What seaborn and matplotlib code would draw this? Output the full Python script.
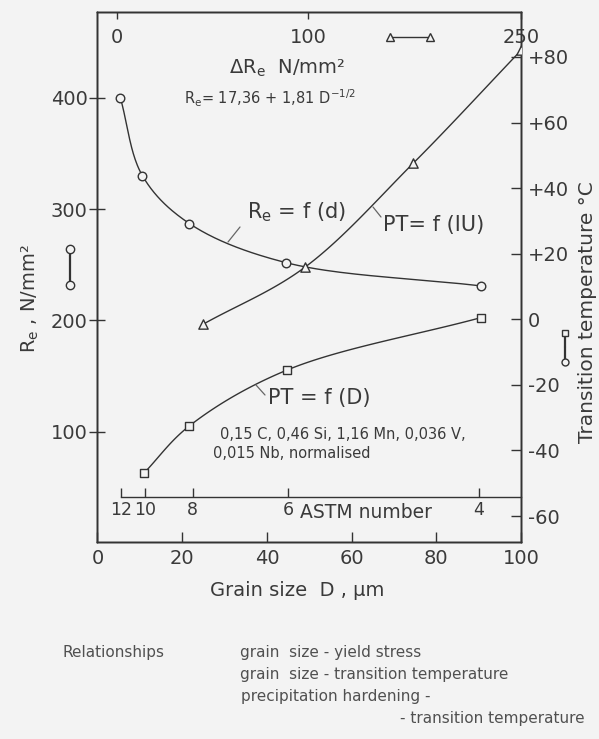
import numpy as np
import matplotlib
matplotlib.use("Agg")
import matplotlib.pyplot as plt
import seaborn as sns
from matplotlib.lines import Line2D

# ---------------- data ----------------
re_grain_size = [5.4, 10.6, 21.7, 44.4, 90.5]        # D, µm
re_yield_stress = [400, 330, 287, 252, 231]           # Re, N/mm²
pt_grain_size = [10.9, 21.7, 44.7, 90.5]              # D, µm
pt_temp_grain = [-47, -32.5, -15.5, 0.5]              # transition temperature, °C
iu_delta_re = [45, 98, 174, 250]                      # ΔRe, N/mm²
iu_temp = [-1.5, 15.8, 47.6, 82]                      # transition temperature, °C

astm_numbers = ["12", "10", "8", "6", "4"]
astm_grain_size = [5.6, 11.2, 22.5, 45, 90]
grain_ticks = [0, 20, 40, 60, 80, 100]
stress_ticks = [100, 200, 300, 400]
temp_ticks = [-60, -40, -20, 0, 20, 40, 60, 80]
temp_tick_labels = ["-60", "-40", "-20", "0", "+20", "+40", "+60", "+80"]
delta_re_ticks = [0, 100, 250]

# ---------------- style ----------------
BG = "#f3f3f3"
INK = "#333333"
TXT = "#3a3a3a"
W, H = 599, 739

sns.set_style("ticks")
plt.rcParams.update({
    "font.family": ["DejaVu Sans"],
    "mathtext.fontset": "dejavusans",
    "axes.edgecolor": INK,
    "axes.linewidth": 1.0,
    "xtick.color": INK,
    "ytick.color": INK,
    "xtick.labelcolor": TXT,
    "ytick.labelcolor": TXT,
    "xtick.labelsize": 14,
    "ytick.labelsize": 14,
    "text.color": TXT,
})


def fx(x):
    return x / W


def fy(y):
    return 1 - y / H


fig = plt.figure(figsize=(W / 100, H / 100), dpi=100, facecolor=BG)
L, R, T, B = 97.5, 521, 12, 542
rect = [fx(L), fy(B), (R - L) / W, (B - T) / H]
ax = fig.add_axes(rect, facecolor=BG)
ax.set_xlim(0, 100)
ax.set_ylim(1, 477)

ax2 = ax.twinx()
ax2.set_ylim(-67.9, 93.7)

# top axis: ΔRe, piecewise-linear scale as printed
dre_nodes = np.array([0.0, 100.0, 250.0])
pos_nodes = np.array([4.6, 49.8, 100.0])
s1 = (pos_nodes[1] - pos_nodes[0]) / (dre_nodes[1] - dre_nodes[0])
s2 = (pos_nodes[2] - pos_nodes[1]) / (dre_nodes[2] - dre_nodes[1])


def fwd(v):
    v = np.asarray(v, float)
    return np.where(v < dre_nodes[1], pos_nodes[0] + (v - dre_nodes[0]) * s1,
                    pos_nodes[1] + (v - dre_nodes[1]) * s2)


def inv(p):
    p = np.asarray(p, float)
    return np.where(p < pos_nodes[1], dre_nodes[0] + (p - pos_nodes[0]) / s1,
                    dre_nodes[1] + (p - pos_nodes[1]) / s2)


ax3 = ax2.twiny()
ax3.set_xscale("function", functions=(fwd, inv))
ax3.set_xlim(float(inv(0.0)), 250)
ax3.set_ylim(ax2.get_ylim())

# ---------------- ticks ----------------
ax.set_xticks(grain_ticks)
ax.set_yticks(stress_ticks)
ax.tick_params(axis="x", direction="in", length=7, width=1, pad=5, top=False)
ax.tick_params(axis="y", direction="inout", length=12, width=1, pad=1, right=False)
ax2.set_yticks(temp_ticks, labels=temp_tick_labels)
ax2.tick_params(axis="y", direction="in", length=7, width=1, pad=5)
ax3.set_xticks(delta_re_ticks, labels=[str(t) for t in delta_re_ticks])
ax3.xaxis.set_minor_locator(matplotlib.ticker.NullLocator())
ax3.tick_params(axis="x", direction="in", length=5, width=1, pad=-25, top=True,
                labeltop=True, bottom=False, labelbottom=False)
for a in (ax, ax2, ax3):
    for s in a.spines.values():
        s.set_color(INK)


# ---------------- smooth curve helper (drawn through read points) ----------------
def catmull(P, n=40):
    P = np.vstack([2 * P[0] - P[1], P, 2 * P[-1] - P[-2]])
    out = []
    for i in range(1, len(P) - 2):
        p0, p1, p2, p3 = P[i - 1], P[i], P[i + 1], P[i + 2]
        t0 = 0.0
        t1 = t0 + np.linalg.norm(p1 - p0) ** 0.5
        t2 = t1 + np.linalg.norm(p2 - p1) ** 0.5
        t3 = t2 + np.linalg.norm(p3 - p2) ** 0.5
        t = np.linspace(t1, t2, n)[:, None]
        A1 = (t1 - t) / (t1 - t0) * p0 + (t - t0) / (t1 - t0) * p1
        A2 = (t2 - t) / (t2 - t1) * p1 + (t - t1) / (t2 - t1) * p2
        A3 = (t3 - t) / (t3 - t2) * p2 + (t - t2) / (t3 - t2) * p3
        B1 = (t2 - t) / (t2 - t0) * A1 + (t - t0) / (t2 - t0) * A2
        B2 = (t3 - t) / (t3 - t1) * A2 + (t - t1) / (t3 - t1) * A3
        C = (t2 - t) / (t2 - t1) * B1 + (t - t1) / (t2 - t1) * B2
        out.append(C if i == 1 else C[1:])
    return np.vstack(out)


def smooth_line(a, xs, ys):
    pts = a.transData.transform(np.column_stack([xs, ys]))
    c = catmull(pts)
    back = a.transData.inverted().transform(c)
    a.plot(back[:, 0], back[:, 1], color=INK, lw=1.0, zorder=2)


smooth_line(ax, re_grain_size, re_yield_stress)
smooth_line(ax2, pt_grain_size, pt_temp_grain)
smooth_line(ax3, iu_delta_re, iu_temp)

mk = dict(color=BG, edgecolor=INK, linewidth=1.0, zorder=3, legend=False)
sns.scatterplot(x=re_grain_size, y=re_yield_stress, ax=ax, marker="o", s=38, **mk)
sns.scatterplot(x=pt_grain_size, y=pt_temp_grain, ax=ax2, marker="s", s=32, **mk)
sns.scatterplot(x=iu_delta_re, y=iu_temp, ax=ax3, marker="^", s=45, **mk)
for a in (ax, ax2, ax3):
    a.set_xlabel("")
    a.set_ylabel("")
ax.set_xlim(0, 100)
ax.set_ylim(1, 477)
ax2.set_ylim(-67.9, 93.7)
ax3.set_xlim(float(inv(0.0)), 250)

# ---------------- ASTM number scale ----------------
axA = fig.add_axes([fx(L), fy(497), (R - L) / W, 0.03])
axA.patch.set_visible(False)
axA.set_xlim(0, 100)
for k in ("top", "left", "right"):
    axA.spines[k].set_visible(False)
axA.spines["bottom"].set_color(INK)
axA.spines["bottom"].set_bounds(astm_grain_size[0], 100)
axA.set_yticks([])
axA.set_xticks(astm_grain_size, labels=astm_numbers)
axA.tick_params(axis="x", direction="in", length=6.5, width=1, pad=3, labelsize=12.5)
fig.text(fx(300), fy(513), "ASTM number", fontsize=13.5, ha="left", va="center")

# ---------------- texts ----------------
fig.text(fx(287), fy(68), "ΔR$_\\mathregular{e}$  N/mm²", fontsize=14, ha="center", va="center")
fig.text(fx(270), fy(98), "R$_\\mathregular{e}$= 17,36 + 1,81 D$^{\\mathregular{-1/2}}$",
         fontsize=10.5, ha="center", va="center")
fig.text(fx(247), fy(212), "R$_\\mathregular{e}$ = f (d)", fontsize=15, ha="left", va="center")
fig.text(fx(383), fy(225), "PT= f (IU)", fontsize=15, ha="left", va="center")
fig.text(fx(268), fy(398), "PT = f (D)", fontsize=15, ha="left", va="center")
fig.text(fx(220), fy(435), "0,15 C, 0,46 Si, 1,16 Mn, 0,036 V,", fontsize=10.5, ha="left", va="center")
fig.text(fx(213), fy(454), "0,015 Nb, normalised", fontsize=10.5, ha="left", va="center")
fig.text(fx(297), fy(590), "Grain size  D , µm", fontsize=14, ha="center", va="center")
fig.text(fx(30), fy(298), "R$_\\mathregular{e}$ , N/mm²", fontsize=14, rotation=90,
         ha="center", va="center")
fig.text(fx(578), fy(312), "Transition temperature °C", fontsize=14.5, rotation=90,
         ha="left", va="center")

cap = dict(fontsize=11, color="#505050", va="center")
fig.text(fx(62), fy(653), "Relationships", ha="left", **cap)
fig.text(fx(240), fy(653), "grain  size - yield stress", ha="left", **cap)
fig.text(fx(240), fy(675), "grain  size - transition temperature", ha="left", **cap)
fig.text(fx(241), fy(697), "precipitation hardening -", ha="left", **cap)
fig.text(fx(585), fy(718), "- transition temperature", ha="right", **cap)

# leader lines
for (x0, y0), (x1, y1) in [((228, 242), (240, 227)), ((373, 207), (381, 217)),
                           ((256, 385), (265, 395))]:
    fig.add_artist(Line2D([fx(x0), fx(x1)], [fy(y0), fy(y1)], transform=fig.transFigure,
                          color="#666666", lw=0.9))

# key symbols next to axis titles and the triangle key
sym = dict(transform=fig.transFigure, color=INK, lw=1.6, mfc=BG, mec=INK, mew=1.0)
fig.add_artist(Line2D([fx(70), fx(70)], [fy(249), fy(285)], marker="o", ms=6, **sym))
fig.add_artist(Line2D([fx(565), fx(565)], [fy(333), fy(347)], marker="s", ms=5,
                      markevery=[0], **sym))
fig.add_artist(Line2D([fx(565), fx(565)], [fy(347), fy(362)], marker="o", ms=5,
                      markevery=[1], **sym))
fig.add_artist(Line2D([fx(390), fx(430)], [fy(37), fy(37)], marker="^", ms=6,
                      **dict(sym, lw=1.0)))

fig.savefig("out.png", dpi=100, facecolor=BG)
